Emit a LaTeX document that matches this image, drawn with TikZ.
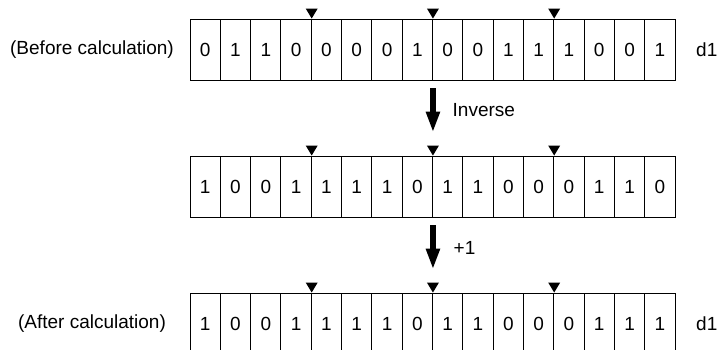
\documentclass[tikz,border=0pt]{standalone}
\usepackage{fontspec}
\setmainfont{Liberation Sans}
\usetikzlibrary{arrows.meta}

\begin{document}
\begin{tikzpicture}[x=1pt,y=1pt,>={Triangle[length=21pt,width=13pt]},font=\fontsize{19}{22}\selectfont,
  cell/.style={draw,line width=0.9pt,minimum width=30.31pt,minimum height=61pt,inner sep=0pt},
  pointer/.style={fill=black},
  bigarrow/.style={->,line width=5.5pt},
  lbl/.style={inner sep=0pt}]
\useasboundingbox (0,0) rectangle (720,350);
% before calculation
\foreach \b [count=\i] in {0,1,1,0,0,0,0,1,0,0,1,1,1,0,0,1}
  \node[cell] (a-\i) at ({190+(\i-0.5)*30.3125},300.5) {\b};
% inverse
\foreach \b [count=\i] in {1,0,0,1,1,1,1,0,1,1,0,0,0,1,1,0}
  \node[cell] (b-\i) at ({190+(\i-0.5)*30.3125},163.5) {\b};
% after calculation
\foreach \b [count=\i] in {1,0,0,1,1,1,1,0,1,1,0,0,0,1,1,1}
  \node[cell] (c-\i) at ({190+(\i-0.5)*30.3125},26.5) {\b};
% nibble marks
\foreach \r in {a,b,c}
  \foreach \k in {4,8,12}
    \fill[pointer] ([xshift=-6pt,yshift=10pt]\r-\k.north east) -- ++(12,0) -- (\r-\k.north east) -- cycle;
\node[lbl] (before) at (92,300.5) {(Before calculation)};
\node[lbl] (after) at (92,26.5) {(After calculation)};
\node[lbl,anchor=west] (d1a) at (696,300.5) {d1};
\node[lbl,anchor=west] (d1c) at (696,26.5) {d1};
\draw[bigarrow] ([yshift=-8pt]a-8.south east) -- ([yshift=23pt]b-8.north east)
  node[midway,right=17pt,lbl]{Inverse};
\draw[bigarrow] ([yshift=-8pt]b-8.south east) -- ([yshift=23pt]c-8.north east)
  node[midway,right=18pt,lbl]{+1};
\end{tikzpicture}
\end{document}
